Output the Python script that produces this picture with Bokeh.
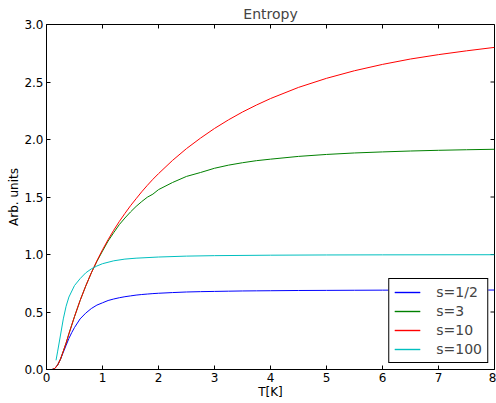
import math
from bokeh.plotting import figure
from bokeh.models import (Range1d, FixedTicker, NumeralTickFormatter,
                          Legend, LegendItem, ColumnDataSource)
from bokeh.embed import file_html
from bokeh.resources import INLINE

# ---- data ----
T = [0.01, 0.1, 0.15, 0.2, 0.25, 0.3, 0.35, 0.4, 0.45, 0.5, 0.6, 0.7, 0.8, 0.9,
     1.0, 1.1, 1.2, 1.3, 1.4, 1.5, 1.6, 1.7, 1.8, 1.9, 2.0, 2.25, 2.5, 2.75, 3.0,
     3.25, 3.5, 3.75, 4.0, 4.5, 5.0, 5.5, 6.0, 6.5, 7.0, 7.5, 8.0]
s_half = [0.0, 0.0, 0.01, 0.04, 0.09, 0.15, 0.21, 0.27, 0.32, 0.365, 0.44, 0.49,
          0.53, 0.56, 0.58, 0.60, 0.613, 0.624, 0.633, 0.64, 0.647, 0.652, 0.656,
          0.66, 0.663, 0.669, 0.674, 0.677, 0.679, 0.681, 0.683, 0.684, 0.685,
          0.687, 0.688, 0.689, 0.690, 0.690, 0.691, 0.691, 0.691]
s_3 = [0.0, 0.0, 0.01, 0.04, 0.09, 0.16, 0.23, 0.31, 0.385, 0.46, 0.60, 0.725,
       0.84, 0.94, 1.03, 1.117, 1.19, 1.26, 1.317, 1.37, 1.418, 1.46, 1.498,
       1.525, 1.564, 1.626, 1.679, 1.713, 1.75, 1.777, 1.798, 1.816, 1.829,
       1.853, 1.87, 1.883, 1.892, 1.90, 1.906, 1.911, 1.915]
s_10 = [0.0, 0.0, 0.01, 0.04, 0.09, 0.16, 0.23, 0.31, 0.385, 0.46, 0.60, 0.725,
        0.84, 0.945, 1.041, 1.129, 1.211, 1.287, 1.357, 1.424, 1.485, 1.545,
        1.601, 1.654, 1.703, 1.818, 1.921, 2.012, 2.096, 2.171, 2.239, 2.30,
        2.356, 2.453, 2.532, 2.598, 2.653, 2.70, 2.738, 2.771, 2.801]
T_100 = [0.17, 0.2, 0.25, 0.3, 0.35, 0.4, 0.5, 0.6, 0.7, 0.8, 0.9, 1.0, 1.2, 1.4,
         1.6, 2.0, 2.5, 3.0, 4.0, 5.0, 6.0, 8.0]
s_100 = [0.08, 0.16, 0.30, 0.44, 0.55, 0.63, 0.73, 0.79, 0.84, 0.875, 0.90, 0.92,
         0.945, 0.96, 0.968, 0.978, 0.986, 0.99, 0.994, 0.996, 0.997, 0.998]

labels = ["s=1/2", "s=3", "s=10", "s=100"]
colors = ["#0000ff", "#008000", "#ff0000", "#00bfbf"]
x_ticks = [0, 1, 2, 3, 4, 5, 6, 7, 8]
y_ticks = [0.0, 0.5, 1.0, 1.5, 2.0, 2.5, 3.0]
X_MIN, X_MAX = 0, 8
Y_MIN, Y_MAX = 0, 3

FONT = "DejaVu Sans"

p = figure(width=496, height=403, x_range=Range1d(X_MIN, X_MAX),
           y_range=Range1d(Y_MIN, Y_MAX),
           output_backend="svg", toolbar_location=None, title="Entropy",
           min_border_left=46, min_border_right=2, min_border_top=23,
           min_border_bottom=34)
p.background_fill_color = "white"
p.border_fill_color = "white"
p.outline_line_color = "black"
p.outline_line_alpha = 1.0
p.outline_line_width = 1
p.xgrid.visible = False
p.ygrid.visible = False

p.title.text_font = FONT
p.title.text_font_size = "14px"
p.title.text_font_style = "normal"
p.title.align = "center"
p.title.standoff = 6

def style_axis(ax, ticks, fmt=None):
    ax.ticker = FixedTicker(ticks=ticks)
    if fmt:
        ax.formatter = NumeralTickFormatter(format=fmt)
    ax.major_tick_in = 4
    ax.major_tick_out = 0
    ax.minor_tick_in = 0
    ax.minor_tick_out = 0
    ax.axis_line_color = "black"
    ax.major_tick_line_color = "black"
    ax.major_label_text_font = FONT
    ax.major_label_text_color = "black"
    ax.major_label_text_font_size = "12px"
    ax.major_label_standoff = 3
    ax.axis_label_text_font = FONT
    ax.axis_label_text_font_style = "normal"
    ax.axis_label_text_font_size = "12px"
    ax.axis_label_text_color = "black"
    ax.axis_label_standoff = 0

style_axis(p.xaxis[0], x_ticks)
style_axis(p.yaxis[0], y_ticks, "0.0")
p.xaxis[0].axis_label = "T[K]"
p.yaxis[0].axis_label = "Arb. units"

# mirrored inward ticks on the top and right frame edges (clipped to the frame)
p.scatter(x=x_ticks, y=[Y_MAX] * len(x_ticks), marker="dash", size=8,
          angle=math.pi / 2, line_color="black", line_width=1)
p.scatter(x=[X_MAX] * len(y_ticks), y=y_ticks, marker="dash", size=8,
          line_color="black", line_width=1)

series = [(T, s_half), (T, s_3), (T, s_10), (T_100, s_100)]
items = []
for (xs, ys), c, lab in zip(series, colors, labels):
    src = ColumnDataSource(data=dict(x=xs, y=ys))
    r = p.line("x", "y", source=src, line_color=c, line_width=1)
    # legend swatch (draws nothing in the plot area): same colour, slightly heavier
    sw = p.line(x=[float("nan")], y=[float("nan")], line_color=c,
                line_width=1.6, line_alpha=0.8)
    items.append(LegendItem(label=lab, renderers=[sw, r]))

legend = Legend(items=items, location="bottom_right")
legend.margin = 6
legend.padding = 5
legend.spacing = 3
legend.glyph_width = 26
legend.glyph_height = 14
legend.label_height = 14
legend.label_standoff = 16
legend.label_text_font = FONT
legend.label_text_font_size = "14px"
legend.label_text_line_height = 1.0
legend.border_line_color = "black"
legend.border_line_alpha = 1.0
legend.border_line_width = 1
legend.background_fill_color = "white"
legend.background_fill_alpha = 1.0
p.add_layout(legend)

open("out.html", "w").write(file_html(p, INLINE))
